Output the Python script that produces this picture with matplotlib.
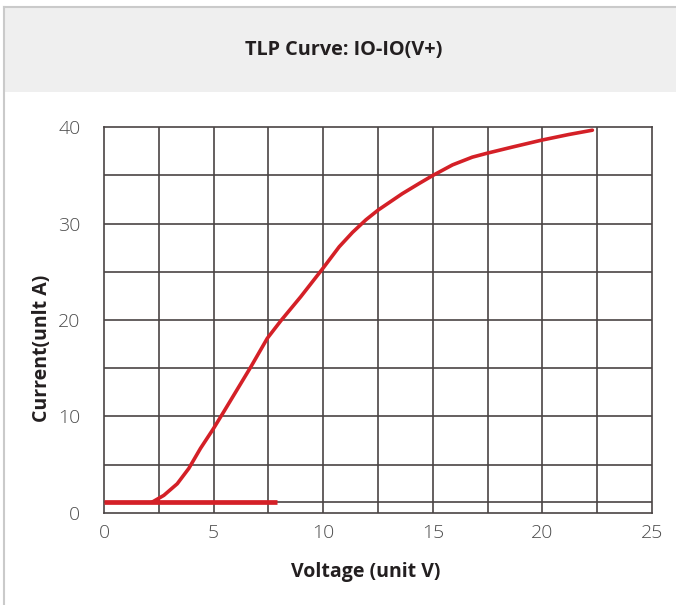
import matplotlib
matplotlib.use("Agg")
import matplotlib.pyplot as plt
from matplotlib.patches import Rectangle
from matplotlib.lines import Line2D

# ---- data ----
title = "TLP Curve: IO-IO(V+)"
x_label = "Voltage (unit V)"
y_label = "Current(unlt A)"
x_ticks = [0, 5, 10, 15, 20, 25]
y_ticks = [0, 10, 20, 30, 40]
x_grid = [2.5, 5, 7.5, 10, 12.5, 15, 17.5, 20, 22.5]
y_grid = [1.15, 5, 10, 15, 20, 25, 30, 35]

curve_v = [2.2, 2.73, 3.34, 3.87, 4.4, 5.0, 5.47, 6.08, 6.69, 7.45, 8.06, 8.97, 10.0,
           10.73, 11.34, 11.95, 12.5, 13.6, 14.4, 15.0, 15.9, 16.8, 17.46, 18.63,
           19.95, 21.2, 22.28]
curve_i = [1.1, 1.8, 3.0, 4.6, 6.67, 8.75, 10.5, 12.8, 15.1, 18.1, 19.9, 22.4, 25.4,
           27.6, 29.1, 30.4, 31.4, 33.1, 34.2, 35.0, 36.1, 36.9, 37.3, 37.95,
           38.66, 39.25, 39.7]
base_v = [0.0, 7.9]
base_i = [1.15, 1.15]

W, H = 676, 605
fig = plt.figure(figsize=(W / 100, H / 100), dpi=100)
fig.patch.set_facecolor("white")

def fx(px):
    return px / W

def fy(py):
    return 1 - py / H

# header band and border
fig.patches.append(Rectangle((fx(4), fy(92)), fx(676) - fx(4), fy(7) - fy(92),
                             transform=fig.transFigure, facecolor="#efefef",
                             edgecolor="none", zorder=0))
fig.lines.append(Line2D([fx(4), 1.0], [fy(6.5), fy(6.5)], transform=fig.transFigure,
                        color="#cacaca", lw=1.5))
fig.lines.append(Line2D([fx(4), fx(4)], [0, fy(6.5)], transform=fig.transFigure,
                        color="#cacaca", lw=1.5))

fig.text(fx(344), fy(50), title, ha="center", va="center",
         fontsize=14.3, fontweight="bold", family="Open Sans", color="#231f20")

ax = fig.add_axes([fx(104), fy(512.7), fx(652) - fx(104), fy(127.3) - fy(512.7)])
ax.set_xlim(0, 25)
ax.set_ylim(0, 40)

grid_color = "#4a4444"
for v in x_grid:
    ax.axvline(v, color=grid_color, lw=1.2, zorder=1)
for i in y_grid:
    ax.axhline(i, color=grid_color, lw=1.2, zorder=1)
for s in ax.spines.values():
    s.set_color(grid_color)
    s.set_linewidth(1.2)

red = "#d42027"
ax.plot(base_v, base_i, color=red, lw=3.4, solid_capstyle="butt", zorder=3)
ax.plot(curve_v, curve_i, color=red, lw=2.6, solid_capstyle="round",
        solid_joinstyle="round", zorder=3)

ax.set_xticks(x_ticks)
ax.set_yticks(y_ticks)
ax.tick_params(length=0, labelsize=14, labelcolor="#4d4d4d")
ax.tick_params(axis="x", pad=8)
ax.tick_params(axis="y", pad=17)
for lab in ax.get_xticklabels() + ax.get_yticklabels():
    lab.set_family("Open Sans")
    lab.set_fontweight("light")

fig.text(fx(366), fy(572), x_label, ha="center", va="center",
         fontsize=14, fontweight="bold", family="Open Sans", color="#231f20")
fig.text(fx(42), fy(348), y_label, ha="center", va="center", rotation=90,
         fontsize=14, fontweight="bold", family="Open Sans", color="#231f20")

fig.savefig("out.png", dpi=100)
